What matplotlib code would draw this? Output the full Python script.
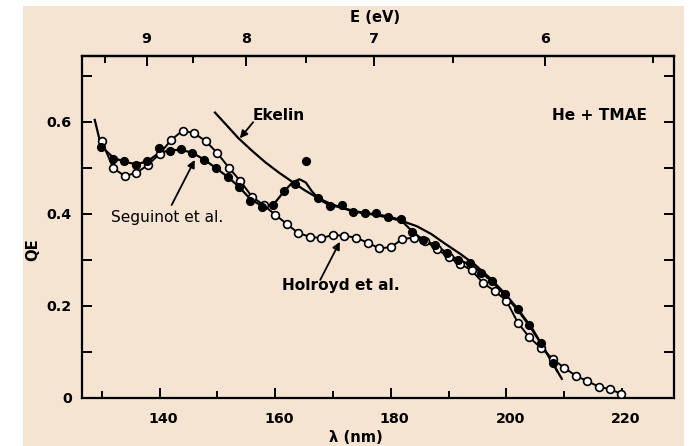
import numpy as np
import matplotlib
matplotlib.use('Agg')
import matplotlib.pyplot as plt
from matplotlib import font_manager as fm
from matplotlib.patches import Rectangle
from matplotlib.transforms import ScaledTranslation
from matplotlib.ticker import FixedLocator

# ---------------- data ----------------
# Holroyd et al. (open circles)
holroyd_wl = [130, 132, 134, 136, 138, 140, 142, 144, 146, 148, 150, 152, 154, 156, 158,
              160, 162, 164, 166, 168, 170, 172, 174, 176, 178, 180, 182, 184, 186, 188,
              190, 192, 194, 196, 198, 200, 202, 204, 206, 208, 210, 212, 214, 216, 218, 219.8]
holroyd_qe = [0.558, 0.499, 0.482, 0.489, 0.506, 0.530, 0.560, 0.581, 0.575, 0.558, 0.532,
              0.500, 0.471, 0.437, 0.419, 0.398, 0.378, 0.358, 0.350, 0.347, 0.354, 0.352,
              0.348, 0.337, 0.325, 0.327, 0.345, 0.348, 0.340, 0.324, 0.305, 0.291, 0.277,
              0.249, 0.232, 0.211, 0.163, 0.131, 0.108, 0.085, 0.065, 0.048, 0.036, 0.024,
              0.018, 0.009]

# Seguinot et al. (filled circles)
seguinot_wl = [129.9, 132.0, 133.9, 135.9, 137.8, 139.9, 141.8, 143.7, 145.6, 147.7, 149.7,
               151.8, 153.8, 155.7, 157.7, 159.6, 161.5, 163.4, 165.3, 167.5, 169.5, 171.5,
               173.4, 175.5, 177.5, 179.5, 181.7, 183.7, 185.6, 187.7, 189.7, 191.6, 193.7,
               195.7, 197.6, 199.8, 202.0, 203.9, 206.0, 208.0]
seguinot_qe = [0.546, 0.520, 0.515, 0.506, 0.515, 0.542, 0.536, 0.541, 0.533, 0.517, 0.500,
               0.480, 0.459, 0.428, 0.415, 0.418, 0.450, 0.465, 0.515, 0.435, 0.417, 0.419,
               0.403, 0.401, 0.401, 0.392, 0.388, 0.360, 0.342, 0.332, 0.315, 0.300, 0.293,
               0.272, 0.253, 0.225, 0.192, 0.159, 0.118, 0.075]

# Seguinot et al. fitted curve
seg_curve_wl = [128.8, 129.9, 132.0, 133.9, 135.9, 137.8, 139.9, 141.8, 143.7, 145.6, 147.7,
                149.7, 151.8, 153.8, 155.7, 157.7, 159.6, 161.5, 163.0, 164.2, 165.3, 166.3,
                167.5, 169.5, 171.5, 173.4, 175.5, 177.5, 179.5, 181.7, 183.7, 185.6, 187.7,
                189.7, 191.6, 193.7, 195.7, 197.6, 199.8, 202.0, 203.9, 206.0, 208.0, 208.8]
seg_curve_qe = [0.604, 0.547, 0.522, 0.513, 0.508, 0.513, 0.532, 0.538, 0.539, 0.533, 0.518,
                0.500, 0.480, 0.458, 0.432, 0.417, 0.418, 0.448, 0.468, 0.475, 0.468, 0.450,
                0.432, 0.418, 0.414, 0.405, 0.401, 0.399, 0.394, 0.387, 0.362, 0.343, 0.332,
                0.315, 0.300, 0.290, 0.272, 0.252, 0.222, 0.190, 0.158, 0.118, 0.076, 0.058]

# Ekelin curve
ekelin_wl = [149.6, 151.5, 153.6, 156.0, 158.3, 160.6, 162.9, 165.0, 167.0, 169.5, 172.0,
             174.5, 177.0, 179.5, 182.0, 184.5, 187.0, 189.5, 192.0, 194.5, 197.0, 199.5,
             202.0, 204.5, 207.0, 209.6]
ekelin_qe = [0.620, 0.594, 0.565, 0.537, 0.512, 0.490, 0.470, 0.452, 0.437, 0.422, 0.411,
             0.404, 0.398, 0.392, 0.384, 0.373, 0.356, 0.334, 0.313, 0.290, 0.262, 0.230,
             0.193, 0.150, 0.097, 0.041]

x_ticks = [140, 160, 180, 200, 220]
x_minor = [130, 150, 170, 190, 210]
y_ticks = [0, 0.2, 0.4, 0.6]
y_ticklabels = ['0', '0.2', '0.4', '0.6']
y_minor = [0.1, 0.3, 0.5, 0.7]
e_ticks = [9, 8, 7, 6]
e_minor = [9.5, 8.5, 7.5, 6.5, 5.5]
HC = 1239.84

# ---------------- fonts ----------------
def has_font(name):
    try:
        fm.findfont(fm.FontProperties(family=name), fallback_to_default=False)
        return True
    except Exception:
        return False

if has_font('Liberation Sans Narrow'):
    FONT, S = 'Liberation Sans Narrow', 1.0
else:
    FONT, S = 'DejaVu Sans', 0.82
plt.rcParams['font.family'] = [FONT, 'DejaVu Sans']

BEIGE = '#f5e4d2'
W, H = 692, 446
fig = plt.figure(figsize=(W / 100, H / 100), dpi=100)
fig.patch.set_facecolor('white')
fig.patches.append(Rectangle((23 / W, 0), (684 - 23) / W, (H - 6) / H,
                             transform=fig.transFigure, facecolor=BEIGE,
                             edgecolor='none', zorder=-10))

L, R, T, B = 81.7, 674.3, 56.0, 397.7
ax = fig.add_axes([L / W, 1 - B / H, (R - L) / W, (B - T) / H])
ax.patch.set_alpha(0)

ax.plot(ekelin_wl, ekelin_qe, color='k', lw=1.6, zorder=2)
ax.plot(seg_curve_wl, seg_curve_qe, color='k', lw=1.6, zorder=2)
ax.plot(holroyd_wl, holroyd_qe, color='k', lw=1.4, marker='o', ms=5.6,
        mfc='white', mec='k', mew=1.2, zorder=3)
ax.plot(seguinot_wl, seguinot_qe, linestyle='none', marker='o', ms=5.6,
        color='k', zorder=4)

ax.set_xlim(126.54, 229.06)
ax.set_ylim(0, 0.743)

for sp in ax.spines.values():
    sp.set_linewidth(1.6)

ax.set_xticks(x_ticks)
ax.set_xticklabels([str(v) for v in x_ticks])
ax.xaxis.set_minor_locator(FixedLocator(x_minor))
ax.set_yticks(y_ticks)
ax.set_yticklabels(y_ticklabels)
ax.yaxis.set_minor_locator(FixedLocator(y_minor))
ax.tick_params(axis='x', which='both', direction='in', top=False, bottom=True,
               width=1.4, labelsize=12.5 * S, pad=10)
ax.tick_params(axis='x', which='major', length=7)
ax.tick_params(axis='x', which='minor', length=5)
ax.tick_params(axis='y', which='both', direction='in', left=True, right=True,
               width=1.4, length=7, labelsize=12.5 * S, pad=7)
for lab in ax.get_xticklabels() + ax.get_yticklabels():
    lab.set_fontweight('bold')
off = ScaledTranslation(4 / 100, 0, fig.dpi_scale_trans)
for lab in ax.get_xticklabels():
    lab.set_transform(lab.get_transform() + off)


def fwd(x):
    x = np.asarray(x, dtype=float)
    with np.errstate(divide='ignore', invalid='ignore'):
        return HC / x


sec = ax.secondary_xaxis('top', functions=(fwd, fwd))
sec.set_xticks(e_ticks)
sec.set_xticklabels([str(v) for v in e_ticks])
sec.xaxis.set_minor_locator(FixedLocator(e_minor))
sec.tick_params(axis='x', which='both', direction='in', width=1.4,
                labelsize=12.5 * S, pad=7)
sec.tick_params(axis='x', which='major', length=7)
sec.tick_params(axis='x', which='minor', length=5)
sec.spines['top'].set_linewidth(1.6)
for lab in sec.get_xticklabels():
    lab.set_fontweight('bold')

# axis titles
fig.text(375 / W, 1 - 18 / H, 'E (eV)', ha='center', va='center',
         fontsize=13 * S, fontweight='bold')
fig.text(356 / W, 1 - 437 / H, 'λ (nm)', ha='center', va='center',
         fontsize=13 * S, fontweight='bold')
fig.text(33 / W, 1 - 250 / H, 'QE', ha='center', va='center', rotation=90,
         fontsize=13 * S, fontweight='bold')

# annotations
arrow = dict(arrowstyle='-|>', color='k', lw=1.3, mutation_scale=11,
             shrinkA=0, shrinkB=0)
ax.text(160.67, 0.614, 'Ekelin', ha='center', va='center',
        fontsize=13.5 * S, fontweight='bold')
ax.annotate('', xy=(153.9, 0.564), xytext=(156.2, 0.599), arrowprops=arrow)
ax.text(216.2, 0.614, 'He + TMAE', ha='center', va='center',
        fontsize=13.5 * S, fontweight='bold')
ax.text(141.38, 0.391, 'Seguinot et al.', ha='center', va='center',
        fontsize=13.5 * S, fontweight='normal')
ax.annotate('', xy=(146.1, 0.517), xytext=(142.1, 0.419), arrowprops=arrow)
ax.text(171.4, 0.245, 'Holroyd et al.', ha='center', va='center',
        fontsize=13.5 * S, fontweight='bold')
ax.annotate('', xy=(171.2, 0.339), xytext=(167.8, 0.256), arrowprops=arrow)

fig.savefig('out.png', dpi=100, facecolor=fig.get_facecolor())
